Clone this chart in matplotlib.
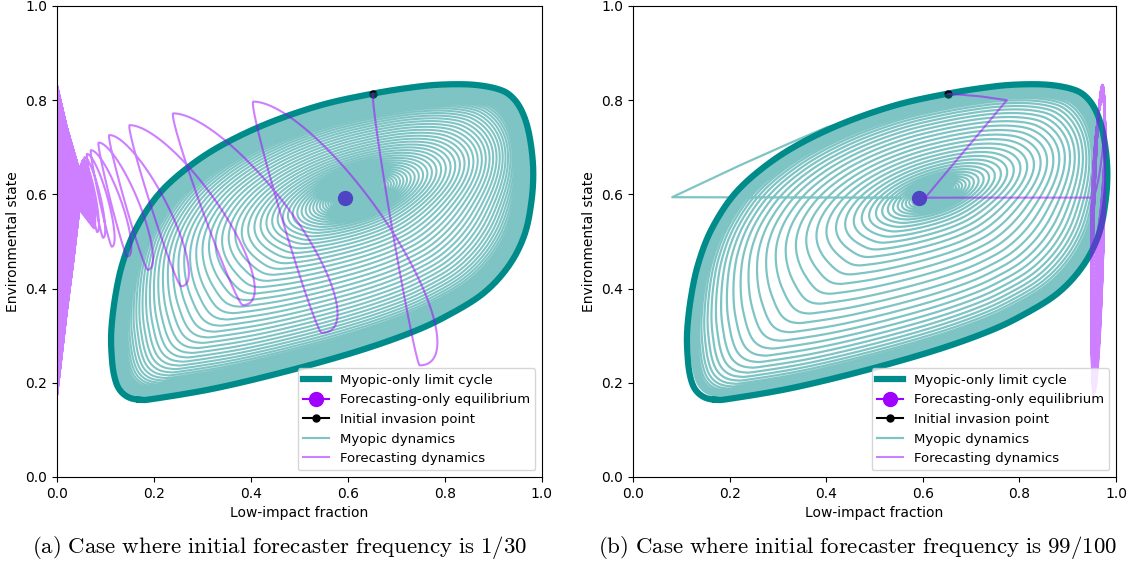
import numpy as np
import matplotlib.pyplot as plt

plt.rcParams['mathtext.fontset'] = 'cm'

# myopic-only limit cycle, traced counter-clockwise from the bottom-left corner
cycle_x = [0.170, 0.200, 0.325, 0.472, 0.620, 0.731, 0.804, 0.878, 0.930, 0.963, 0.978,
           0.982, 0.974, 0.959, 0.937, 0.908, 0.856, 0.790, 0.731, 0.652, 0.546, 0.435,
           0.339, 0.266, 0.207, 0.162, 0.135, 0.120, 0.112, 0.113, 0.118, 0.128, 0.146]
cycle_y = [0.164, 0.166, 0.188, 0.224, 0.267, 0.307, 0.342, 0.389, 0.446, 0.511, 0.582,
           0.654, 0.726, 0.776, 0.808, 0.824, 0.833, 0.833, 0.827, 0.814, 0.790, 0.751,
           0.704, 0.654, 0.597, 0.525, 0.453, 0.382, 0.310, 0.255, 0.215, 0.187, 0.170]

eq_point = (0.593, 0.593)
invasion_point = (0.652, 0.814)

# (a) forecasting dynamics: turning points (top / bottom of each swing)
fa_turn_x = [0.652, 0.748, 0.405, 0.546, 0.240, 0.383, 0.150, 0.256, 0.108, 0.187,
             0.086, 0.145, 0.070, 0.113, 0.062, 0.095, 0.057, 0.083]
fa_turn_y = [0.815, 0.237, 0.797, 0.306, 0.772, 0.365, 0.747, 0.405, 0.726, 0.440,
             0.710, 0.468, 0.694, 0.489, 0.686, 0.508, 0.679, 0.520]
# squeeze before the wedge at the left edge
fa_pinch_top_x = [0.054, 0.047]
fa_pinch_top_y = [0.674, 0.656]
fa_pinch_bot_x = [0.076, 0.048]
fa_pinch_bot_y = [0.528, 0.565]
# wedge against x = 0
fa_wedge_x = [0.0, 0.020, 0.034, 0.046]
fa_wedge_top = [0.832, 0.744, 0.694, 0.652]
fa_wedge_bot = [0.170, 0.348, 0.460, 0.567]

# (b) forecasting dynamics
fb_path_x = [0.652, 0.720, 0.774, 0.605, 0.951]
fb_path_y = [0.814, 0.808, 0.800, 0.593, 0.593]
fb_band_top = (0.972, 0.800, 0.833)   # x, first top y, last top y
fb_band_bot = (0.955, 0.500, 0.170)   # x, first bottom y, last bottom y

# (b) myopic dynamics: the stray branch left of the cycle
mb_fin_x = [0.463, 0.400, 0.325, 0.222, 0.081, 0.553]
mb_fin_y = [0.761, 0.742, 0.709, 0.662, 0.594, 0.593]

teal = 'darkcyan'
purple = '#9f00ff'


def closed_spline(px, py, n=40):
    P = np.column_stack([px, py])
    m = len(P)
    t = np.linspace(0, 1, n, endpoint=False)[:, None]
    out = []
    for i in range(m):
        p0, p1, p2, p3 = P[(i - 1) % m], P[i], P[(i + 1) % m], P[(i + 2) % m]
        out.append(0.5 * (2 * p1 + (-p0 + p2) * t + (2 * p0 - 5 * p1 + 4 * p2 - p3) * t ** 2
                          + (-p0 + 3 * p1 - 3 * p2 + p3) * t ** 3))
    out = np.vstack(out + [out[0][:1]])
    return out[:, 0], out[:, 1]


def spiral(lx, ly, anchor, ell, turns, s0, s1, end_angle, q=1.4, p=3):
    # loops grow from a small tilted ellipse round the anchor out to the limit cycle
    ang = np.arctan2(ly - anchor[1], lx - anchor[0])
    rad = np.hypot(lx - anchor[0], ly - anchor[1])
    order = np.argsort(ang)
    ang, rad = ang[order], rad[order]
    ph = np.linspace(0, 2 * np.pi * turns, int(turns * 500))
    u = ph / ph[-1]
    a0, a1 = np.log(s0 / (1 - s0)), np.log(s1 / (1 - s1))
    s = 1 / (1 + np.exp(-(a0 + (a1 - a0) * u ** q)))
    alpha = end_angle - ph[-1] + ph
    rc = np.interp(alpha, ang, rad, period=2 * np.pi)
    ea, eb, tilt = ell
    re = 1 / np.sqrt((np.cos(alpha - tilt) / ea) ** 2 + (np.sin(alpha - tilt) / eb) ** 2)
    re = np.minimum(re, rc)
    g = s ** p
    r = s * ((1 - g) * re + g * rc)
    return anchor[0] + r * np.cos(alpha), anchor[1] + r * np.sin(alpha)


def swing(tx, ty, up_frac, down_frac, base=0.001, n=60):
    xs, ys = [tx[0]], [ty[0]]
    t = np.linspace(0, 1, n)[1:]
    w = (1 - np.cos(np.pi * t)) / 2
    h = np.sin(np.pi * t)
    for i in range(len(tx) - 1):
        dx = tx[i + 1] - tx[i]
        if ty[i + 1] > ty[i]:
            b = up_frac * abs(dx) + base
        else:
            b = -(down_frac * abs(dx) + base)
        xs.extend(tx[i] + dx * w + b * h)
        ys.extend(ty[i] + (ty[i + 1] - ty[i]) * w)
    return np.array(xs), np.array(ys)


lc_x, lc_y = closed_spline(cycle_x, cycle_y)

# ---- (a) forecasting path
n_pinch, n_wedge = 14, 220
tx, ty = list(fa_turn_x), list(fa_turn_y)
for i in range(n_pinch):
    f = i / (n_pinch - 1)
    tx += [fa_pinch_top_x[0] + f * (fa_pinch_top_x[1] - fa_pinch_top_x[0]),
           fa_pinch_bot_x[0] + f * (fa_pinch_bot_x[1] - fa_pinch_bot_x[0])]
    ty += [fa_pinch_top_y[0] + f * (fa_pinch_top_y[1] - fa_pinch_top_y[0]),
           fa_pinch_bot_y[0] + f * (fa_pinch_bot_y[1] - fa_pinch_bot_y[0])]
for xw in np.linspace(fa_wedge_x[-1], fa_wedge_x[0], n_wedge):
    tx += [xw, xw]
    ty += [np.interp(xw, fa_wedge_x, fa_wedge_top), np.interp(xw, fa_wedge_x, fa_wedge_bot)]
fa_x, fa_y = swing(tx, ty, 0.34, 0.08)

# ---- (b) forecasting path
n_band = 40
btx, bty = [fb_path_x[-1]], [fb_path_y[-1]]
for i in range(n_band):
    f = i / (n_band - 1)
    btx += [fb_band_top[0], fb_band_bot[0]]
    bty += [fb_band_top[1] + f * (fb_band_top[2] - fb_band_top[1]),
            fb_band_bot[1] + f * (fb_band_bot[2] - fb_band_bot[1])]
band_x, band_y = swing(btx, bty, 0.0, 0.0, base=0.011)
fb_x = np.concatenate([fb_path_x[:-1], band_x])
fb_y = np.concatenate([fb_path_y[:-1], band_y])

# ---- myopic spirals
ma_x, ma_y = spiral(lc_x, lc_y, (0.62, 0.60), (0.34, 0.13, 0.35), 115, 0.004, 0.997, 2.0)
anchor_b = (0.625, 0.60)
end_b = np.arctan2(mb_fin_y[0] - anchor_b[1], mb_fin_x[0] - anchor_b[0])
sb_x, sb_y = spiral(lc_x, lc_y, anchor_b, (0.30, 0.11, 0.36), 75, 0.004, 0.995, end_b)
mb_x = np.concatenate([sb_x, mb_fin_x])
mb_y = np.concatenate([sb_y, mb_fin_y])

fig = plt.figure(figsize=(11.39, 5.69), dpi=100)
ax1 = fig.add_axes([0.0500, 0.1617, 0.4258, 0.8278])
ax2 = fig.add_axes([0.5558, 0.1617, 0.4240, 0.8278])

panels = [(ax1, ma_x, ma_y, fa_x, fa_y, 1.5), (ax2, mb_x, mb_y, fb_x, fb_y, 1.6)]
for ax, mx, my, fx, fy, mlw in panels:
    ax.plot(lc_x, lc_y, color=teal, lw=4.5, label='Myopic-only limit cycle')
    ax.plot([eq_point[0]], [eq_point[1]], 'o-', color=purple, ms=10,
            label='Forecasting-only equilibrium')
    ax.plot([invasion_point[0]], [invasion_point[1]], 'o-', color='black', ms=5,
            label='Initial invasion point')
    ax.plot(mx, my, color=teal, alpha=0.5, lw=mlw, label='Myopic dynamics')
    ax.plot(fx, fy, color=purple, alpha=0.5, lw=1.5, label='Forecasting dynamics')
    ax.set_xlim(0, 1)
    ax.set_ylim(0, 1)
    ax.set_xlabel('Low-impact fraction')
    ax.set_ylabel('Environmental state')
    ax.legend(loc='lower right', fontsize=9.5)

fig.text(0.2457, 0.037, r'$\mathrm{(a)\ Case\ where\ initial\ forecaster\ frequency\ is\ 1/30}$',
         ha='center', va='center', fontsize=16.5)
fig.text(0.7533, 0.037, r'$\mathrm{(b)\ Case\ where\ initial\ forecaster\ frequency\ is\ 99/100}$',
         ha='center', va='center', fontsize=16.5)

fig.savefig('out.png', dpi=100)
